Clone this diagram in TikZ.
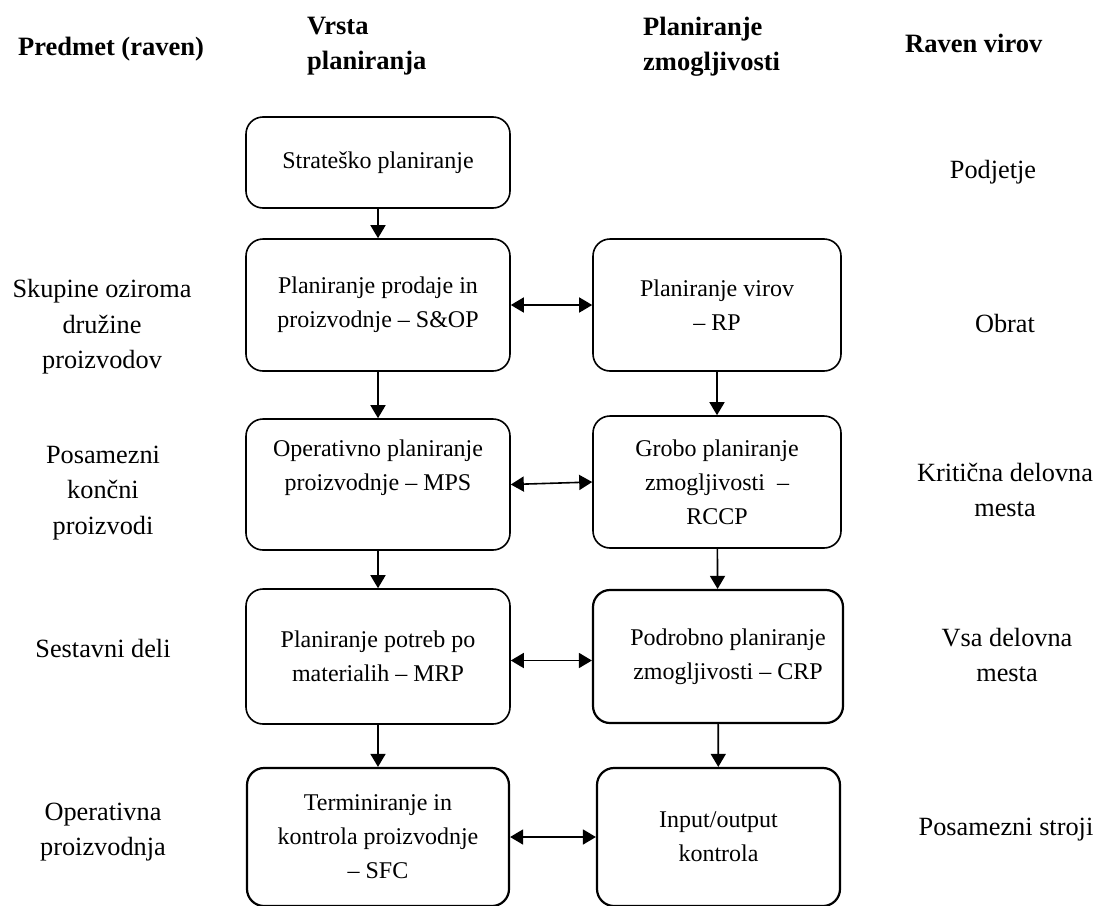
\documentclass[tikz,border=0pt]{standalone}
\usepackage{fontspec}
\setmainfont{Liberation Serif}
\usetikzlibrary{arrows.meta}
\begin{document}
\begin{tikzpicture}[x=1pt,y=-1pt,
  box/.style={draw, line width=1.6pt, rounded corners=17pt, inner sep=0pt,
    align=center, font=\fontsize{24}{34}\selectfont},
  heavybox/.style={box, line width=2.2pt},
  leftw/.style={minimum width=264pt},
  rightw/.style={minimum width=248pt},
  boxtext/.style={align=center, inner sep=0pt, font=\fontsize{24}{34}\selectfont},
  lbl/.style={align=center, inner sep=0pt, font=\fontsize{26.3}{35.5}\selectfont},
  head/.style={align=left, inner sep=0pt, font=\fontsize{26.5}{35}\selectfont\bfseries},
  flow/.style={line width=1.6pt, -{Triangle[length=13pt,width=15pt]}},
  biflow/.style={line width=1.6pt,
    {Triangle[length=13pt,width=15pt]}-{Triangle[length=13pt,width=15pt]}}
]
\useasboundingbox (0,0) rectangle (1097,905);

% column headings
\node[head, anchor=base west] (hPred) at (18,55) {Predmet (raven)};
\node[head, anchor=north west] (hVrsta) at (307,17) {Vrsta\\planiranja};
\node[head, anchor=north west] (hPlan) at (643,17) {Planiranje\\zmogljivosti};
\node[head, anchor=base west] (hRaven) at (905,52) {Raven virov};

% planning types (left column)
\node[box, leftw, minimum height=91pt] (str) at (378,162.5) {Strateško planiranje};
\node[box, leftw, minimum height=132pt] (sop) at (378,305)
  {Planiranje prodaje in\\proizvodnje – S\&OP};
\node[box, leftw, minimum height=131pt] (mps) at (378,484.5) {};
\node[boxtext] (mpsText) at (378,468) {Operativno planiranje\\proizvodnje – MPS};
\node[box, leftw, minimum height=135pt] (mrp) at (378,656.5)
  {Planiranje potreb po\\materialih – MRP};
\node[heavybox, minimum width=262pt, minimum height=138pt] (sfc) at (378,837)
  {Terminiranje in\\kontrola proizvodnje\\– SFC};

% capacity planning (right column)
\node[box, rightw, minimum height=132pt] (rp) at (717,305)
  {Planiranje virov\\– RP};
\node[box, rightw, minimum height=132pt] (rccp) at (717,482)
  {Grobo planiranje\\zmogljivosti~ –\\RCCP};
\node[heavybox, minimum width=250pt, minimum height=133pt] (crp) at (718,656.5)
  {\hspace*{20pt}Podrobno planiranje\\\hspace*{20pt}zmogljivosti – CRP};
\node[heavybox, minimum width=243pt, minimum height=138pt] (io) at (718.5,837)
  {Input/output\\kontrola};

% flow between levels
\draw[flow] (str) -- (sop);
\draw[flow] (sop) -- (mps);
\draw[flow] (mps) -- (mrp);
\draw[flow] (mrp) -- (sfc);
\draw[flow] (rp) -- (rccp);
\draw[flow] (rccp) -- (crp);
\draw[flow] (crp) -- (io);

% coordination between planning and capacity
\draw[biflow] (sop.east) -- (rp.west);
\draw[biflow] (mps.east) -- (rccp.west);
\draw[biflow] ([yshift=-4pt]mrp.east) -- ([yshift=-4pt]crp.west);
\draw[biflow] (sfc.east) -- (io.west);

% object levels (left)
\node[lbl] (lvlA) at (102,327) {Skupine oziroma\\družine\\proizvodov};
\node[lbl] (lvlB) at (103,493) {Posamezni\\končni\\proizvodi};
\node[lbl] (lvlC) at (103,648) {Sestavni deli};
\node[lbl] (lvlD) at (103,832) {Operativna\\proizvodnja};

% resource levels (right)
\node[lbl] (resA) at (993,172) {Podjetje};
\node[lbl] (resB) at (1005,323) {Obrat};
\node[lbl] (resC) at (1005,490) {Kritična delovna\\mesta};
\node[lbl] (resD) at (1007,655) {Vsa delovna\\mesta};
\node[lbl] (resE) at (1006,830) {Posamezni stroji};
\end{tikzpicture}
\end{document}
